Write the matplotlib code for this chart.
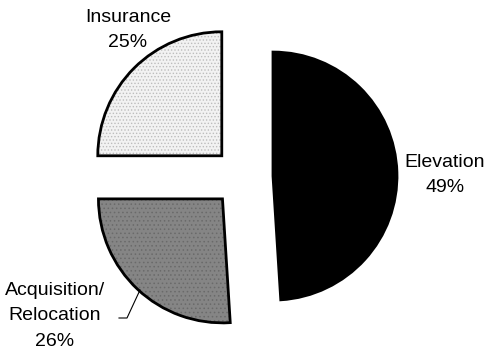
import matplotlib.pyplot as plt

plt.rcParams["font.family"] = ["Liberation Sans", "DejaVu Sans"]
plt.rcParams["hatch.linewidth"] = 0.6

labels = ["Elevation", "Acquisition/\nRelocation", "Insurance"]
shares = [49, 26, 25]
colors = ["#000000", "#858585", "#f2f2f2"]
hatch_colors = ["#000000", "#6a6a6a", "#bdbdbd"]
hatches = [None, "....", "....."]

fig = plt.figure(figsize=(4.88, 3.53), dpi=100)
ax = fig.add_axes([0, 0, 1, 1])

# work in pixel units so the layout maps straight onto the image
wedges, _ = ax.pie(
    shares,
    colors=colors,
    startangle=90,
    counterclock=False,
    radius=124,
    center=(243, 353 - 177),
    explode=[30] * 3,
    wedgeprops={"linewidth": 2, "edgecolor": "black"},
    frame=True,
)
for w, h, hc in zip(wedges, hatches, hatch_colors):
    if h:
        w.set_hatch(h)
        w._hatch_color = plt.matplotlib.colors.to_rgba(hc)

ax.set_xlim(0, 488)
ax.set_ylim(0, 353)
ax.set_aspect("equal")
ax.axis("off")

txt = dict(ha="center", va="center", fontsize=14, linespacing=1.65)
ax.text(128, 353 - 30, f"Insurance\n{shares[2]}%", **txt)
ax.text(445, 353 - 175, f"Elevation\n{shares[0]}%", **txt)
ax.text(55, 353 - 316, f"Acquisition/\nRelocation\n{shares[1]}%", **txt)

# leader line for the acquisition label
ax.plot([119, 127, 140], [353 - 318, 353 - 318, 353 - 290], color="black", lw=0.8)

fig.savefig("out.png", dpi=100)
